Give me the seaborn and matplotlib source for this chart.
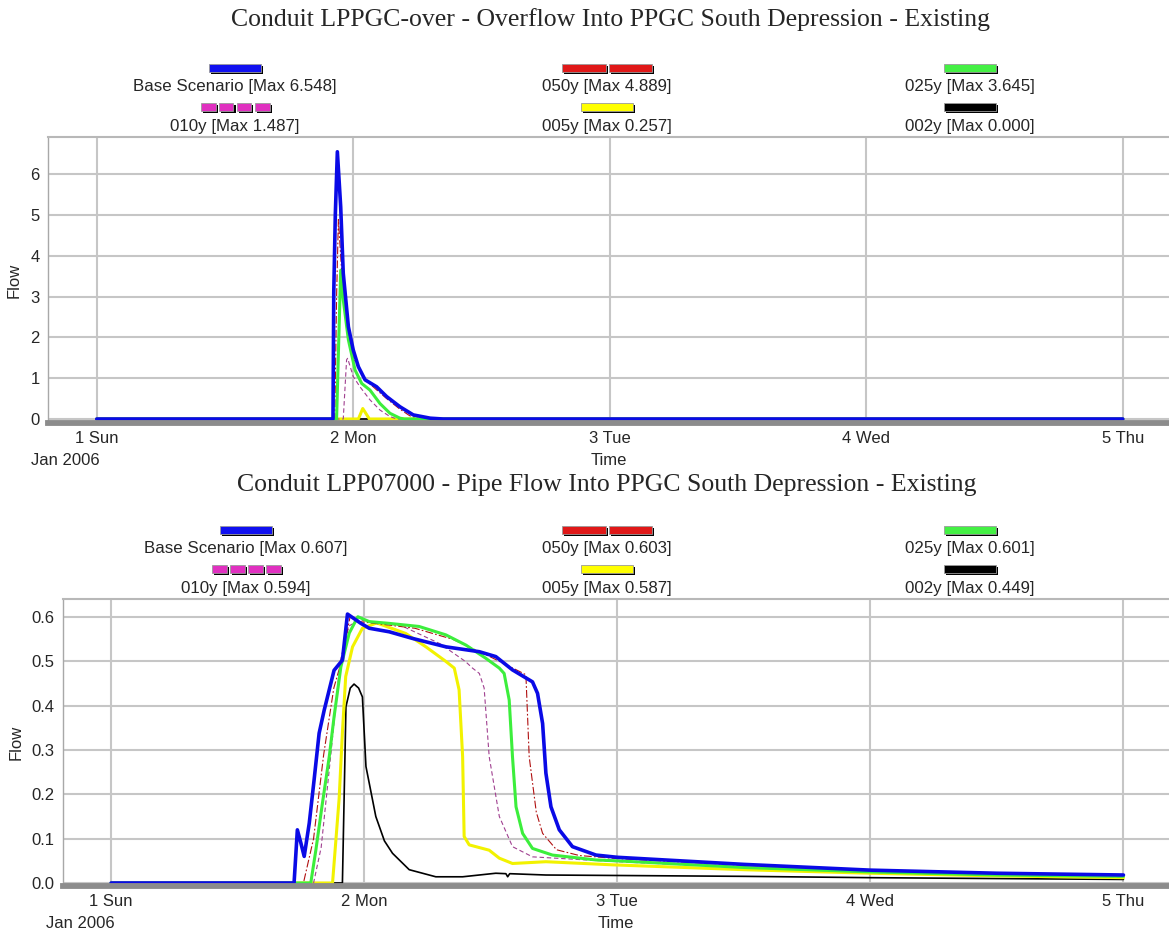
import matplotlib
matplotlib.use("Agg")
import matplotlib.pyplot as plt
from matplotlib.patches import Rectangle
import seaborn as sns
import numpy as np

# ---------------- data (days since 1 Jan 2006 00:00 -> 1.0) ----------------
series_names = ["Base Scenario", "050y", "025y", "010y", "005y", "002y"]
day_ticks = [1, 2, 3, 4, 5]
day_labels = ["1 Sun", "2 Mon", "3 Tue", "4 Wed", "5 Thu"]
top_yticks = [0, 1, 2, 3, 4, 5, 6]
bot_yticks = [0.0, 0.1, 0.2, 0.3, 0.4, 0.5, 0.6]

# Top panel: Conduit LPPGC-over
top_base_t = [1.0, 1.921, 1.924, 1.930, 1.938, 1.951, 1.961, 1.981, 2.0, 2.02, 2.046, 2.091, 2.13, 2.182, 2.234, 2.3, 2.35, 5.0]
top_base_q = [0, 0, 3.1, 5.0, 6.548, 5.2, 3.57, 2.26, 1.69, 1.28, 0.96, 0.79, 0.55, 0.30, 0.10, 0.02, 0, 0]
top_050_t = [1.0, 1.928, 1.935, 1.942, 1.955, 1.975, 2.0, 2.04, 2.09, 2.13, 2.18, 2.22, 2.26, 5.0]
top_050_q = [0, 0, 3.0, 4.889, 3.6, 2.3, 1.5, 1.0, 0.72, 0.5, 0.25, 0.08, 0, 0]
top_025_t = [1.0, 1.935, 1.951, 1.961, 1.981, 2.007, 2.033, 2.065, 2.104, 2.143, 2.182, 2.2, 5.0]
top_025_q = [0, 0, 3.645, 2.92, 1.94, 1.2, 0.87, 0.71, 0.38, 0.14, 0.02, 0, 0]
top_010_t = [1.0, 1.961, 1.974, 1.978, 2.0, 2.026, 2.065, 2.104, 2.143, 2.17, 5.0]
top_010_q = [0, 0, 1.45, 1.487, 1.04, 0.79, 0.47, 0.22, 0.06, 0, 0]
top_005_t = [1.0, 2.02, 2.037, 2.063, 5.0]
top_005_q = [0, 0, 0.257, 0, 0]
top_002_t = [1.0, 5.0]
top_002_q = [0, 0]

# Bottom panel: Conduit LPP07000
bot_base_t = [1.0, 1.723, 1.736, 1.750, 1.763, 1.783, 1.802, 1.822, 1.842, 1.881, 1.914, 1.934, 1.987, 2.020,
              2.099, 2.191, 2.323, 2.455, 2.520, 2.586, 2.665, 2.685, 2.705, 2.718, 2.738, 2.771, 2.823, 2.916,
              3.0, 3.5, 4.0, 4.5, 5.0]
bot_base_q = [0, 0, 0.12, 0.09, 0.06, 0.135, 0.232, 0.338, 0.39, 0.48, 0.503, 0.607, 0.586, 0.575,
              0.567, 0.552, 0.533, 0.522, 0.511, 0.481, 0.454, 0.428, 0.36, 0.248, 0.172, 0.12, 0.082, 0.063,
              0.058, 0.042, 0.029, 0.022, 0.018]
bot_050_t = [1.0, 1.76, 1.80, 1.84, 1.88, 1.91, 1.945, 1.98, 2.1, 2.2, 2.35, 2.5, 2.612, 2.639, 2.652, 2.68,
             2.705, 2.76, 2.85, 3.0, 3.5, 4.0, 4.5, 5.0]
bot_050_q = [0, 0, 0.1, 0.29, 0.44, 0.5, 0.603, 0.59, 0.582, 0.575, 0.55, 0.51, 0.478, 0.47, 0.285, 0.16,
             0.112, 0.075, 0.062, 0.055, 0.04, 0.027, 0.02, 0.016]
bot_025_t = [1.0, 1.789, 1.809, 1.835, 1.862, 1.881, 1.908, 1.941, 1.975, 2.02, 2.099, 2.217, 2.323, 2.402,
             2.481, 2.534, 2.553, 2.573, 2.586, 2.600, 2.626, 2.665, 2.744, 2.916, 3.0, 3.5, 4.0, 4.5, 5.0]
bot_025_q = [0, 0, 0.074, 0.18, 0.285, 0.375, 0.488, 0.564, 0.601, 0.59, 0.586, 0.579, 0.560, 0.537,
             0.507, 0.485, 0.473, 0.413, 0.285, 0.172, 0.112, 0.078, 0.063, 0.052, 0.05, 0.035, 0.025, 0.018, 0.015]
bot_010_t = [1.0, 1.80, 1.83, 1.87, 1.905, 1.94, 1.98, 2.15, 2.3, 2.4, 2.428, 2.455, 2.474, 2.494, 2.534,
             2.586, 2.665, 3.0, 3.5, 4.0, 4.5, 5.0]
bot_010_q = [0, 0, 0.08, 0.3, 0.5, 0.58, 0.594, 0.58, 0.54, 0.5, 0.485, 0.473, 0.44, 0.285, 0.15,
             0.082, 0.059, 0.048, 0.035, 0.024, 0.018, 0.014]
bot_005_t = [1.0, 1.875, 1.901, 1.914, 1.927, 1.954, 1.993, 2.05, 2.165, 2.244, 2.323, 2.356, 2.375, 2.389,
             2.395, 2.415, 2.494, 2.534, 2.586, 2.718, 2.98, 3.5, 4.0, 4.5, 5.0]
bot_005_q = [0, 0, 0.19, 0.34, 0.466, 0.533, 0.575, 0.587, 0.563, 0.533, 0.5, 0.485, 0.436, 0.285,
             0.105, 0.086, 0.074, 0.056, 0.044, 0.048, 0.041, 0.03, 0.022, 0.016, 0.012]
bot_002_t = [1.0, 1.914, 1.928, 1.945, 1.96, 1.978, 1.993, 2.007, 2.046, 2.08, 2.112, 2.178, 2.283, 2.389, 2.520,
             2.560, 2.567, 2.575, 2.718, 2.98, 3.5, 4.0, 4.5, 5.0]
bot_002_q = [0, 0, 0.398, 0.44, 0.449, 0.44, 0.42, 0.263, 0.15, 0.095, 0.067, 0.03, 0.014, 0.014, 0.022,
             0.021, 0.014, 0.021, 0.018, 0.017, 0.015, 0.012, 0.01, 0.008]

# ---------------- styles ----------------
line_colors = {"Base Scenario": "#0a0ae6", "050y": "#b01010", "025y": "#3cee3c",
               "010y": "#a04090", "005y": "#f2f200", "002y": "#000000"}
swatch_colors = {"Base Scenario": "#1010f0", "050y": "#e01818", "025y": "#44f044",
                 "010y": "#e030c0", "005y": "#ffff00", "002y": "#000000"}
line_widths = {"Base Scenario": 2.6, "050y": 0.8, "025y": 2.2, "010y": 0.8, "005y": 2.2, "002y": 1.2}
line_styles = {"Base Scenario": "-", "050y": (0, (7, 2, 1.5, 2)), "025y": "-",
               "010y": (0, (4, 2.5)), "005y": "-", "002y": "-"}
swatch_segments = {"Base Scenario": 1, "050y": 2, "025y": 1, "010y": 4, "005y": 1, "002y": 1}
draw_order = ["002y", "005y", "010y", "050y", "025y", "Base Scenario"]

sns.set_style("white")
plt.rcParams["font.family"] = ["Liberation Sans", "DejaVu Sans"]

W, H = 1169, 931
fig = plt.figure(figsize=(W / 100, H / 100), dpi=100)


def fx(px):
    return px / W


def fy(py):
    return 1 - py / H


def add_swatch(cx, cy, color, nseg, width, h=8, gap=3):
    seg_w = (width - (nseg - 1) * gap) / nseg
    x0 = cx - width / 2
    for i in range(nseg):
        xs = x0 + i * (seg_w + gap)
        fig.add_artist(Rectangle((fx(xs + 2), fy(cy + h / 2 + 2)), seg_w / W, h / H,
                                 transform=fig.transFigure, facecolor="black", edgecolor="none"))
        fig.add_artist(Rectangle((fx(xs), fy(cy + h / 2)), seg_w / W, h / H,
                                 transform=fig.transFigure, facecolor=color, edgecolor="#9a9a9a", lw=0.6))


def panel(rect_px, data, yticks, ylim, yminor, title, title_xy, leg_cols, leg_rows, yfmt):
    left, top, right, bottom = rect_px
    ax = fig.add_axes([fx(left), fy(bottom), (right - left) / W, (bottom - top) / H])
    ax.set_axisbelow(True)
    for name in draw_order:
        t, q = data[name]
        sns.lineplot(x=t, y=q, ax=ax, color=line_colors[name], lw=line_widths[name],
                     linestyle=line_styles[name], estimator=None, sort=False, legend=False)
    ax.set_xlim(0.81, 5.18)
    ax.set_ylim(*ylim)
    ax.set_xticks(day_ticks)
    ax.set_xticklabels(day_labels)
    ax.set_yticks(yticks)
    ax.set_yticklabels([yfmt.format(v) for v in yticks])
    ax.set_yticks(yminor, minor=True)
    ax.grid(True, which="major", color="#c6c6c6", lw=1.5)
    ax.tick_params(axis="y", which="major", direction="out", length=4, color="#a0a0a0",
                   labelsize=12, pad=2)
    ax.tick_params(axis="y", which="minor", direction="in", length=7, color="#b4b4b4", width=1)
    ax.tick_params(axis="x", which="major", direction="out", length=3.6, width=1.2,
                   color="#b0b0b0", labelsize=12, pad=2.4)
    ax.spines["right"].set_visible(False)
    ax.spines["top"].set_color("#b8b8b8")
    ax.spines["top"].set_linewidth(1.5)
    ax.spines["left"].set_color("#a8a8a8")
    ax.spines["left"].set_linewidth(1.0)
    ax.spines["bottom"].set_color("#8c8c8c")
    ax.spines["bottom"].set_linewidth(4.2)
    ax.set_xlabel("Time", fontsize=12, labelpad=4.5)
    ax.set_ylabel("Flow", fontsize=12, labelpad=6)
    ax.annotate("Jan 2006", xy=(day_ticks[0], 0), xycoords=("data", "axes fraction"),
                xytext=(-31, -38), textcoords="offset pixels", ha="center", va="center", fontsize=12)
    fig.text(fx(title_xy[0]), fy(title_xy[1]), title, ha="center", va="center",
             fontsize=18.5, family=["Liberation Serif", "DejaVu Serif"])
    # legend
    for i, name in enumerate(series_names):
        r, c = divmod(i, 3)
        sw_y, lab_y = leg_rows[r]
        cx = leg_cols[c]
        widths = {1: 52, 2: 90, 4: 69}
        add_swatch(cx, sw_y, swatch_colors[name], swatch_segments[name], widths[swatch_segments[name]])
        mx = max(data[name][1])
        fig.text(fx(cx), fy(lab_y), f"{name} [Max {mx:.3f}]", ha="center", va="center", fontsize=12.2)
    return ax


top_data = {"Base Scenario": (top_base_t, top_base_q), "050y": (top_050_t, top_050_q),
            "025y": (top_025_t, top_025_q), "010y": (top_010_t, top_010_q),
            "005y": (top_005_t, top_005_q), "002y": (top_002_t, top_002_q)}
bot_data = {"Base Scenario": (bot_base_t, bot_base_q), "050y": (bot_050_t, bot_050_q),
            "025y": (bot_025_t, bot_025_q), "010y": (bot_010_t, bot_010_q),
            "005y": (bot_005_t, bot_005_q), "002y": (bot_002_t, bot_002_q)}

panel((48, 137, 1169, 423), top_data, top_yticks, (-0.098, 6.91), list(np.arange(0.5, 7, 1.0)),
      "Conduit LPPGC-over - Overflow Into PPGC South Depression - Existing", (611, 20),
      [235, 607, 970], [(68, 86), (107, 127)], "{:d}")
panel((63, 599, 1169, 886), bot_data, bot_yticks, (-0.0068, 0.641), list(np.arange(0.05, 0.65, 0.1)),
      "Conduit LPP07000 - Pipe Flow Into PPGC South Depression - Existing", (607, 485),
      [246, 607, 970], [(530, 549), (569, 589)], "{:.1f}")

fig.savefig("out.png", dpi=100)
